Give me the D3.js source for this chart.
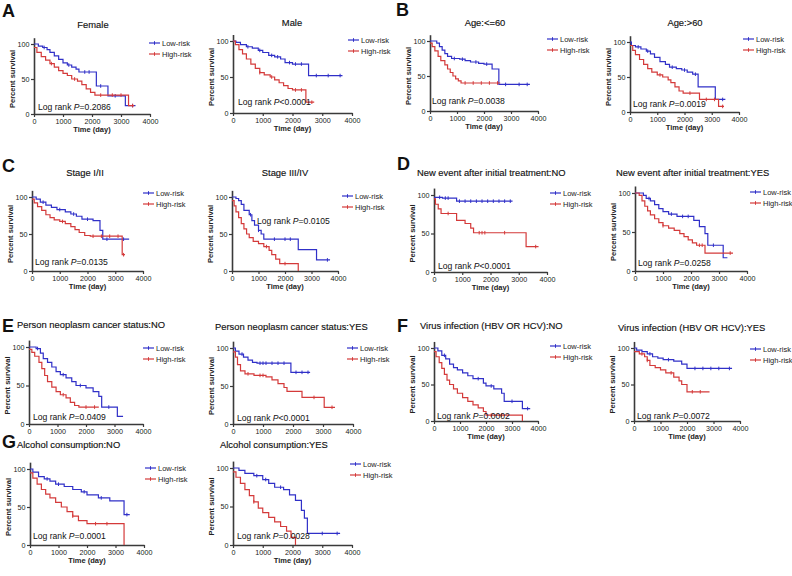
<!DOCTYPE html>
<html><head><meta charset="utf-8">
<script src="https://cdn.jsdelivr.net/npm/d3@7"></script>
<style>body{margin:0;background:#fff}svg{display:block}</style>
</head><body><svg id="c" width="792" height="576"></svg>
<script>
// ---------- data ----------
const seriesNames = ["Low-risk", "High-risk"];
const xTicks = [0, 1000, 2000, 3000, 4000];
const yTicks = [0, 50, 100];
const panelLetters = ["A", "B", "C", "D", "E", "F", "G"];
const titles = ["Female", "Male", "Age:<=60", "Age:>60", "Stage I/II", "Stage III/IV",
  "New event after initial treatment:NO", "New event after initial treatment:YES",
  "Person neoplasm cancer status:NO", "Person neoplasm cancer status:YES",
  "Virus infection (HBV OR HCV):NO", "Virus infection (HBV OR HCV):YES",
  "Alcohol consumption:NO", "Alcohol consumption:YES"];
const pTexts = ["=0.2086", "<0.0001", "=0.0038", "=0.0019", "=0.0135", "=0.0105",
  "<0.0001", "=0.0258", "=0.0409", "<0.0001", "=0.0002", "=0.0072", "=0.0001", "=0.0028"];

// Kaplan-Meier steps: [time (day), percent survival]
const femaleLow = [[0,100],[150,97],[300,95],[450,92],[550,88],[700,83],[850,78],[1000,73],[1150,70],[1300,67],[1450,64],[1550,60],[2150,40],[2550,26],[3150,12],[3500,12]];
const femaleHigh = [[0,95],[100,88],[250,82],[400,77],[550,72],[700,67],[850,62],[1000,58],[1150,55],[1300,50],[1500,47],[1650,42],[1800,36],[1950,31],[2100,27],[3260,12],[3450,12]];
const maleLow = [[0,100],[100,98],[250,95],[450,92],[650,90],[850,87],[1000,84],[1200,80],[1400,78],[1600,75],[1750,70],[2000,68],[2540,52],[3680,52]];
const maleHigh = [[0,100],[80,95],[200,88],[320,82],[450,75],[600,68],[750,62],[900,56],[1050,53],[1250,50],[1400,46],[1550,42],[1700,38],[1850,34],[2000,32],[2450,15],[2730,15]];
const age1Low = [[0,100],[250,97],[350,92],[450,87],[550,82],[650,78],[800,75],[1100,74],[1300,72],[1500,70],[1800,68],[2000,67],[2300,60],[2550,38],[3700,38]];
const age1High = [[0,97],[80,92],[180,86],[300,78],[400,72],[550,66],[650,60],[750,55],[850,50],[950,46],[1050,43],[1150,40],[2600,40]];
const age2Low = [[0,100],[50,95],[200,93],[400,90],[600,87],[750,83],[900,78],[1100,72],[1300,68],[1450,64],[1700,62],[1900,60],[2100,57],[2300,54],[2500,36],[3130,18],[3500,18]];
const age2High = [[0,95],[100,88],[200,82],[350,75],[500,68],[650,62],[800,57],[1000,53],[1200,50],[1400,46],[1500,42],[1650,36],[1800,30],[1950,27],[2550,18],[3250,8],[3450,8]];
const stage1Low = [[0,100],[150,97],[300,93],[500,89],[700,86],[900,83],[1200,80],[1400,77],[1600,74],[1800,70],[2200,68],[2450,55],[2550,43],[3500,43]];
const stage1High = [[0,97],[80,92],[200,87],[350,82],[500,76],[650,72],[800,69],[1000,67],[1200,64],[1400,60],[1550,56],[1700,52],[1900,48],[2100,47],[3250,22],[3350,22]];
const stage2Low = [[0,100],[150,98],[250,95],[350,90],[450,82],[650,76],[750,68],[850,62],[1000,55],[1100,50],[1200,43],[2500,29],[3190,15],[3700,15]];
const stage2High = [[0,95],[80,88],[150,80],[250,72],[350,64],[450,57],[550,50],[650,45],[800,40],[1000,37],[1200,33],[1400,28],[1500,22],[1650,16],[1800,10],[2500,0]];
const newNoLow = [[0,97],[300,96],[800,92],[2780,92]];
const newNoHigh = [[0,95],[50,88],[150,82],[250,76],[800,67],[1100,63],[1300,57],[1400,51],[3260,33],[3700,33]];
const newYesLow = [[0,100],[300,97],[400,93],[550,90],[700,85],[850,80],[1000,76],[1200,73],[1500,70],[2100,65],[2300,57],[2500,48],[2600,33],[3150,17],[3300,17]];
const newYesHigh = [[0,100],[150,97],[250,90],[350,83],[450,77],[550,72],[700,67],[850,62],[1000,58],[1200,55],[1400,52],[1600,48],[1750,44],[1900,40],[2050,36],[2200,33],[2500,23],[3500,23]];
const tumNoLow = [[0,100],[250,98],[400,92],[500,85],[650,80],[800,74],[950,68],[1100,64],[1300,60],[1500,55],[1650,50],[2000,47],[2250,42],[2450,36],[2550,22],[3100,10],[3300,10]];
const tumNoHigh = [[0,97],[100,93],[200,88],[350,80],[450,72],[550,63],[650,55],[800,48],[950,42],[1100,38],[1300,34],[1450,28],[1600,24],[1750,22],[2450,22]];
const tumYesLow = [[0,100],[80,96],[200,92],[350,88],[500,84],[650,81],[800,80],[1930,68],[2570,68]];
const tumYesHigh = [[0,95],[80,88],[150,78],[250,70],[400,66],[700,64],[1100,62],[1300,58],[1500,53],[1700,48],[1800,43],[2300,35],[3040,22],[3400,22]];
const virNoLow = [[0,100],[150,96],[300,90],[450,85],[600,78],[750,73],[900,70],[1100,66],[1300,62],[1500,58],[1900,52],[2000,48],[2300,44],[2600,38],[2700,27],[3400,17],[3700,17]];
const virNoHigh = [[0,95],[80,88],[200,80],[300,72],[400,64],[500,56],[600,50],[750,44],[900,38],[1100,32],[1300,27],[1500,22],[1700,18],[1900,13],[2000,8],[3400,0]];
const virYesLow = [[0,100],[100,97],[300,95],[500,92],[700,88],[900,86],[1100,84],[1500,82],[1800,78],[2000,72],[3700,72]];
const virYesHigh = [[0,95],[200,92],[400,88],[500,83],[600,76],[800,73],[1000,70],[1200,66],[1500,60],[1700,55],[1800,50],[2000,40],[2850,40]];
const alcNoLow = [[0,100],[100,96],[300,90],[500,87],[700,84],[900,80],[1200,77],[1500,73],[1800,70],[2000,66],[2400,62],[2800,58],[3300,40],[3500,40]];
const alcNoHigh = [[0,95],[100,88],[250,80],[400,73],[550,67],[700,62],[900,56],[1100,50],[1300,44],[1500,38],[1700,32],[2000,28],[3300,0]];
const alcYesLow = [[0,100],[200,97],[400,93],[700,90],[1000,85],[1200,80],[1400,75],[1700,72],[1900,65],[2100,58],[2300,45],[2400,35],[2500,15],[3600,15]];
const alcYesHigh = [[0,95],[100,88],[250,80],[400,72],[550,64],[700,56],[850,48],[1000,42],[1200,36],[1400,30],[1600,24],[1800,18],[1950,10],[2100,0]];

// censored times (day)
const femaleLowC = [350,1200,1750,1900,2300,2800,3400];
const femaleHighC = [600,1400,2300,2700,3000,3400];
const maleLowC = [500,900,1300,1500,1900,2100,2300,2800,3200,3600];
const maleHighC = [900,1300,2100,2300,2650];
const age1LowC = [900,1200,1700,2100,2800,3300,3600];
const age1HighC = [1300,1600,1900,2200,2500];
const age2LowC = [300,650,1550,2000,2400,3400];
const age2HighC = [1100,2200,2800,3100,3400];
const stage1LowC = [400,1000,1500,2000,2700,3300];
const stage1HighC = [1100,2200,2500,2800,3100,3300];
const stage2LowC = [700,1000,1600,2000,2200,3600];
const stage2HighC = [1300,2000];
const newNoLowC = [200,400,500,900,1100,1300,1500,1700,1900,2100,2300,2500,2700];
const newNoHighC = [500,1600,1700,1800,2500,3600];
const newYesLowC = [500,1300,1700,1900,2800];
const newYesHighC = [1000,2300,2400,3400];
const tumNoLowC = [300,1200,1800,2800];
const tumNoHighC = [1200,2000,2300];
const tumYesLowC = [300,900,1000,1100,1300,1500,1700,2100,2300,2500];
const tumYesHighC = [500,900,1000,2700,3300];
const virNoLowC = [400,1700,2200,3000,3600];
const virNoHighC = [2200,2600];
const virYesLowC = [600,1300,2300,2600,2900,3200,3600];
const virYesHighC = [300,500,1400,2200,2500];
const alcNoLowC = [600,1000,1900,2500,3400];
const alcNoHighC = [1500,2300,2700];
const alcYesLowC = [800,1100,1600,3000,3500];
const alcYesHighC = [700];

const curves = [
  [femaleLow, femaleLowC, femaleHigh, femaleHighC],
  [maleLow, maleLowC, maleHigh, maleHighC],
  [age1Low, age1LowC, age1High, age1HighC],
  [age2Low, age2LowC, age2High, age2HighC],
  [stage1Low, stage1LowC, stage1High, stage1HighC],
  [stage2Low, stage2LowC, stage2High, stage2HighC],
  [newNoLow, newNoLowC, newNoHigh, newNoHighC],
  [newYesLow, newYesLowC, newYesHigh, newYesHighC],
  [tumNoLow, tumNoLowC, tumNoHigh, tumNoHighC],
  [tumYesLow, tumYesLowC, tumYesHigh, tumYesHighC],
  [virNoLow, virNoLowC, virNoHigh, virNoHighC],
  [virYesLow, virYesLowC, virYesHigh, virYesHighC],
  [alcNoLow, alcNoLowC, alcNoHigh, alcNoHighC],
  [alcYesLow, alcYesLowC, alcYesHigh, alcYesHighC]
];

// ---------- layout ----------
const layout = [
  {x0:34, x1:150, y0:114, y1:44, tx:93, ty:28, ta:"middle", lgx:149, lgy:43, lrx:38, lry:110, xl:true},
  {x0:233, x1:352, y0:113, y1:41, tx:292, ty:26, ta:"middle", lgx:348, lgy:40, lrx:238, lry:105, xl:true},
  {x0:430, x1:538, y0:111, y1:41, tx:485, ty:26, ta:"middle", lgx:547, lgy:39, lrx:432, lry:104, xl:true},
  {x0:630, x1:739, y0:112, y1:42, tx:685, ty:26, ta:"middle", lgx:743, lgy:39, lrx:633, lry:107, xl:true},
  {x0:32, x1:143, y0:271, y1:197, tx:85, ty:176, ta:"middle", lgx:143, lgy:193, lrx:35, lry:265, xl:true},
  {x0:232, x1:338, y0:271, y1:197, tx:285, ty:176, ta:"middle", lgx:342, lgy:196, lrx:257, lry:224, xl:true},
  {x0:434, x1:547, y0:272, y1:195, tx:417, ty:176, ta:"start", lgx:550, lgy:193, lrx:438, lry:269, xl:true},
  {x0:635, x1:747, y0:271, y1:193, tx:616, ty:176, ta:"start", lgx:750, lgy:192, lrx:638, lry:266, xl:true},
  {x0:29, x1:143, y0:424, y1:347, tx:17, ty:328, ta:"start", lgx:143, lgy:348, lrx:33, lry:420, xl:false},
  {x0:233, x1:353, y0:424, y1:348, tx:215, ty:330, ta:"start", lgx:347, lgy:348, lrx:237, lry:421, xl:false},
  {x0:434, x1:538, y0:421, y1:348, tx:420, ty:329, ta:"start", lgx:550, lgy:346, lrx:437, lry:419, xl:true},
  {x0:634, x1:740, y0:421, y1:348, tx:618, ty:331, ta:"start", lgx:750, lgy:349, lrx:637, lry:419, xl:true},
  {x0:30, x1:144, y0:545, y1:469, tx:17, ty:448, ta:"start", lgx:145, lgy:468, lrx:33, lry:539, xl:true},
  {x0:233, x1:352, y0:545, y1:468, tx:220, ty:448, ta:"start", lgx:350, lgy:464, lrx:237, lry:539, xl:true}
];
const letterPos = [[2,17],[396,16],[2,172],[397,170],[2,332],[397,332],[2,448]];

const COLORS = ["#3030c8", "#d43a3a"];
const FONT = "'Liberation Sans', Arial, Helvetica, sans-serif";
const svg = d3.select("#c").style("font-family", FONT);

letterPos.forEach((p, i) => {
  svg.append("text").attr("x", p[0]).attr("y", p[1]).attr("font-size", 18)
    .attr("font-weight", "bold").attr("fill", "#111").text(panelLetters[i]);
});

function survAt(steps, t) {
  let s = steps[0][1];
  for (const d of steps) { if (d[0] <= t) s = d[1]; }
  return s;
}

layout.forEach((L, i) => {
  const g = svg.append("g");
  const x = d3.scaleLinear().domain([0, 4000]).range([L.x0, L.x1]);
  const y = d3.scaleLinear().domain([0, 100]).range([L.y0, L.y1]);
  const yAx = y.copy().domain([0, 109]).range([L.y0, y(109)]);

  const xa = g.append("g").attr("transform", `translate(0,${L.y0})`)
    .call(d3.axisBottom(x).tickValues(xTicks).tickFormat(d3.format("d"))
      .tickSize(3).tickSizeOuter(0).tickPadding(1.5));
  const ya = g.append("g").attr("transform", `translate(${L.x0},0)`)
    .call(d3.axisLeft(yAx).tickValues(yTicks).tickFormat(d3.format("d"))
      .tickSize(3).tickSizeOuter(0).tickPadding(1.5));
  [xa, ya].forEach(a => {
    a.select(".domain").attr("stroke", "#3a3a3a").attr("stroke-width", 1.6);
    a.selectAll(".tick line").attr("stroke", "#3a3a3a").attr("stroke-width", 1.2);
    a.selectAll("text").attr("font-size", 7.2).attr("font-family", FONT).attr("fill", "#222");
  });

  const line = d3.line().x(d => x(d[0])).y(d => y(d[1])).curve(d3.curveStepAfter);
  [0, 1].forEach(k => {
    const steps = curves[i][k * 2], cens = curves[i][k * 2 + 1];
    g.append("path").datum(steps).attr("d", line).attr("fill", "none")
      .attr("stroke", COLORS[k]).attr("stroke-width", 1.2);
    g.selectAll(null).data(cens).enter().append("line")
      .attr("x1", t => x(t)).attr("x2", t => x(t))
      .attr("y1", t => y(survAt(steps, t)) - 1.8).attr("y2", t => y(survAt(steps, t)) + 1.8)
      .attr("stroke", COLORS[k]).attr("stroke-width", 1);
  });

  g.append("text").attr("x", L.tx).attr("y", L.ty).attr("text-anchor", L.ta)
    .attr("font-size", 9.4).attr("fill", "#111").attr("stroke", "#111").attr("stroke-width", 0.15)
    .text(titles[i]);

  g.append("text").attr("transform", `translate(${L.x0 - 19},${(L.y0 + L.y1) / 2}) rotate(-90)`)
    .attr("text-anchor", "middle").attr("font-size", 7.5).attr("font-weight", 600)
    .attr("fill", "#222").text("Percent survival");
  if (L.xl) {
    g.append("text").attr("x", (L.x0 + L.x1) / 2).attr("y", L.y0 + 18)
      .attr("text-anchor", "middle").attr("font-size", 7.5).attr("font-weight", 600)
      .attr("fill", "#222").text("Time (day)");
  }

  seriesNames.forEach((nm, k) => {
    const ly = L.lgy + k * 11;
    g.append("line").attr("x1", L.lgx).attr("x2", L.lgx + 11).attr("y1", ly).attr("y2", ly)
      .attr("stroke", COLORS[k]).attr("stroke-width", 1.2);
    g.append("line").attr("x1", L.lgx + 5.5).attr("x2", L.lgx + 5.5).attr("y1", ly - 1.8).attr("y2", ly + 1.8)
      .attr("stroke", COLORS[k]).attr("stroke-width", 1);
    g.append("text").attr("x", L.lgx + 13).attr("y", ly + 2.6).attr("font-size", 7.5)
      .attr("fill", "#222").text(nm);
  });

  const lt = g.append("text").attr("x", L.lrx).attr("y", L.lry).attr("font-size", 8.6).attr("fill", "#111");
  lt.append("tspan").text("Log rank ");
  lt.append("tspan").attr("font-style", "italic").text("P");
  lt.append("tspan").text(pTexts[i]);
});
</script>
</body></html>
